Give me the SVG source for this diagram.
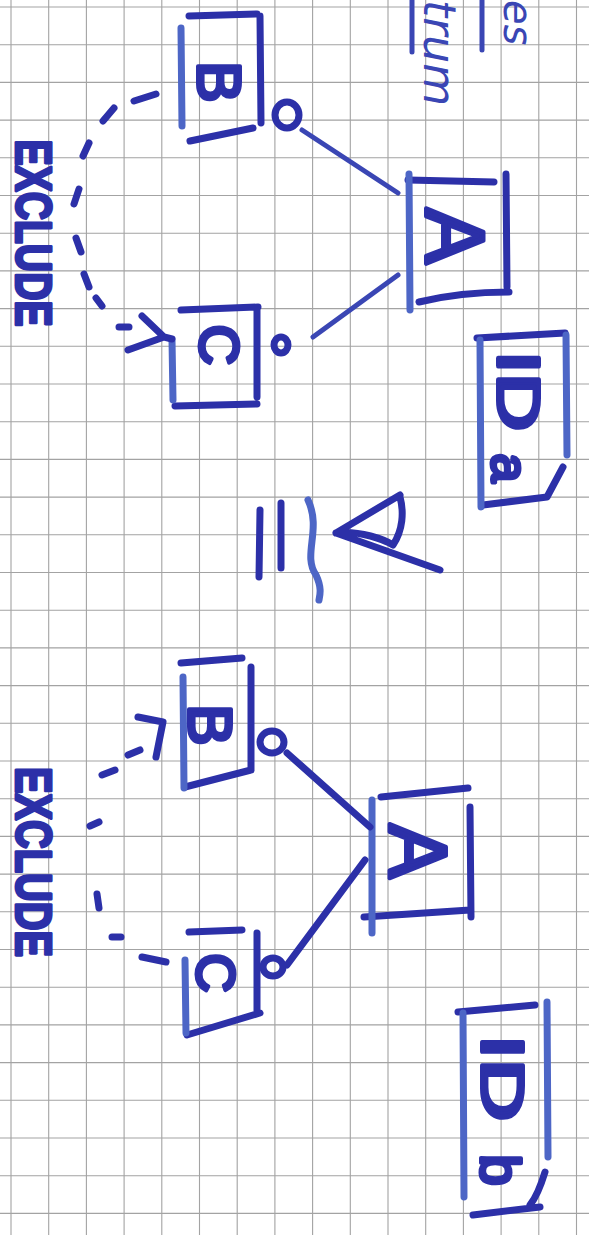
<svg xmlns="http://www.w3.org/2000/svg" width="589" height="1235" viewBox="0 0 589 1235">
<style>
.grid{stroke:#a3a3a3;stroke-width:1.1;fill:none}
.ink{stroke:#2c30a8;stroke-width:7;stroke-linecap:round;stroke-linejoin:round;fill:none}
.lite{stroke:#4d66c6;stroke-width:7;stroke-linecap:round;fill:none}
.thin{stroke:#3a46b4;stroke-width:5;stroke-linecap:round;stroke-linejoin:round;fill:none}
.lbl{font-family:"Liberation Sans",Arial,sans-serif;font-weight:bold;fill:#2c30a8;stroke:#2c30a8;stroke-width:3;stroke-linejoin:round}
.big{font-family:"Liberation Sans",Arial,sans-serif;font-weight:normal;fill:#2c30a8;stroke:#2c30a8;stroke-width:4;stroke-linejoin:round}
.pen{font-family:"DejaVu Sans",sans-serif;font-style:italic;fill:#3a46b4}
</style>
<rect width="589" height="1235" fill="#ffffff"/>
<path class="grid" d="M11,0V1235M48.7,0V1235M86.4,0V1235M124.1,0V1235M161.8,0V1235M199.5,0V1235M237.2,0V1235M274.9,0V1235M312.6,0V1235M350.3,0V1235M388,0V1235M425.7,0V1235M463.4,0V1235M501.1,0V1235M538.8,0V1235M576.5,0V1235
M0,7H589M0,44.7H589M0,82.4H589M0,120.1H589M0,157.8H589M0,195.5H589M0,233.2H589M0,270.9H589M0,308.6H589M0,346.3H589M0,384H589M0,421.7H589M0,459.4H589M0,497.1H589M0,534.8H589M0,572.5H589M0,610.2H589M0,647.9H589M0,685.6H589M0,723.3H589M0,761H589M0,798.7H589M0,836.4H589M0,874.1H589M0,911.8H589M0,949.5H589M0,987.2H589M0,1024.9H589M0,1062.6H589M0,1100.3H589M0,1138H589M0,1175.7H589M0,1213.4H589"/>

<g id="header">
<path class="thin" stroke-width="4" d="M412,0 L412,52 M482,0 L482,50"/>
<text class="pen" x="424" y="0" font-size="44" transform="rotate(90 424 0)">trum</text>
<text class="pen" x="504" y="0" font-size="40" transform="rotate(90 504 0)">es</text>
</g>

<g id="node-B1">
<path class="ink" d="M189,16 L257,14 M260,16 L261,123 M190,141 L253,128"/>
<path class="lite" d="M181,28 L182,126"/>
<text class="big" x="219" y="82" font-size="62" text-anchor="middle" dominant-baseline="central" transform="rotate(90 219 82)">B</text>
</g>
<g id="node-A1">
<path class="ink" d="M408,180 L494,182 M506,174 L507,287 M419,302 Q460,292 509,292"/>
<path class="lite" d="M409,174 L410,310"/>
<text class="big" x="455" y="236" font-size="84" text-anchor="middle" dominant-baseline="central" transform="rotate(90 455 236)">A</text>
</g>
<g id="node-C1">
<path class="ink" d="M181,310 L258,307 M257,308 L257,397 M175,406 L257,404"/>
<path class="lite" d="M172,340 L173,400"/>
<text class="big" x="219" y="345" font-size="56" text-anchor="middle" dominant-baseline="central" transform="rotate(90 219 345)">C</text>
</g>
<g id="node-IDa">
<path class="ink" d="M477,338 L565,333 M483,505 L547,497 L563,467"/>
<path class="lite" d="M480,340 L481,507 M566,335 L567,455"/>
<text class="big" x="518" y="391" font-size="60" text-anchor="middle" dominant-baseline="central" textLength="80" lengthAdjust="spacingAndGlyphs" transform="rotate(90 518 391)">ID</text>
<text class="big" x="510" y="468" font-size="52" text-anchor="middle" dominant-baseline="central" transform="rotate(90 510 468)">a</text>
</g>

<g id="relation">
<path class="ink" d="M260,510 L259,577 M281,503 L281,568"/>
<path class="lite" d="M308,500 C322,530 302,555 316,575 C322,588 320,595 319,600"/>
<path class="ink" d="M400,495 L336,533 L440,570 M336,533 C360,530 385,540 393,545 C403,530 404,512 400,497"/>
</g>

<g id="node-B2">
<path class="ink" d="M181,663 L242,658 M251,667 L251,770 M185,787 L251,770"/>
<path class="lite" d="M183,677 L184,788"/>
<text class="big" x="210" y="725" font-size="62" text-anchor="middle" dominant-baseline="central" transform="rotate(90 210 725)">B</text>
</g>
<g id="node-A2">
<path class="ink" d="M381,797 L468,788 M470,807 L471,917 M364,917 L470,910"/>
<path class="lite" d="M372,800 L372,933"/>
<text class="big" x="418" y="851" font-size="82" text-anchor="middle" dominant-baseline="central" transform="rotate(90 418 851)">A</text>
</g>
<g id="node-C2">
<path class="ink" d="M189,932 L242,930 M257,933 L257,1013 M187,1035 L260,1013"/>
<path class="lite" d="M185,960 L186,1033"/>
<text class="big" x="216" y="973" font-size="54" text-anchor="middle" dominant-baseline="central" transform="rotate(90 216 973)">C</text>
</g>
<g id="node-IDb">
<path class="ink" d="M458,1012 L535,1005 M473,1215 L540,1207 M545,1172 Q538,1195 530,1205"/>
<path class="lite" d="M463,1013 L464,1197 M547,1002 L548,1157"/>
<text class="big" x="502" y="1078" font-size="60" text-anchor="middle" dominant-baseline="central" textLength="86" lengthAdjust="spacingAndGlyphs" transform="rotate(90 502 1078)">ID</text>
<text class="big" x="500" y="1170" font-size="56" text-anchor="middle" dominant-baseline="central" transform="rotate(90 500 1170)">b</text>
</g>

<g id="labels">
<text class="lbl" x="33" y="233" font-size="50" text-anchor="middle" dominant-baseline="central" textLength="187" lengthAdjust="spacingAndGlyphs" transform="rotate(90 33 233)">EXCLUDE</text>
<text class="lbl" x="33" y="862" font-size="50" text-anchor="middle" dominant-baseline="central" textLength="190" lengthAdjust="spacingAndGlyphs" transform="rotate(90 33 862)">EXCLUDE</text>
</g>

<g id="connectors">
<path class="thin" stroke="#3b4cb8" d="M302,130 L398,193 M398,275 L313,337"/>
<ellipse class="ink" stroke-width="6" cx="287" cy="115" rx="12" ry="13"/>
<ellipse class="ink" stroke-width="6" cx="281" cy="345" rx="7" ry="8"/>
<path class="ink" stroke-width="7" d="M134,101 L156,94 M103,121 L114,108 M83,156 L89,143 M74,204 L79,189 M76,238 L81,252 M84,274 L89,287 M96,298 L102,306 M119,327 L129,327"/>
<path class="ink" stroke-width="6" d="M142,316 L164,337 M128,350 L164,337 L172,339"/>
<path class="ink" stroke-width="7" d="M287,753 L370,827 M287,965 L365,860"/>
<ellipse class="ink" stroke-width="6" cx="272" cy="742" rx="12" ry="11"/>
<ellipse class="ink" stroke-width="6" cx="273" cy="967" rx="10" ry="9"/>
<path class="ink" stroke-width="6" d="M138,717 L163,722 L156,757 M128,755 L140,750 M102,775 L115,770 M90,826 L99,822 M97,894 L99,908 M112,937 L121,937 M142,957 L166,962"/>
</g>
</svg>
